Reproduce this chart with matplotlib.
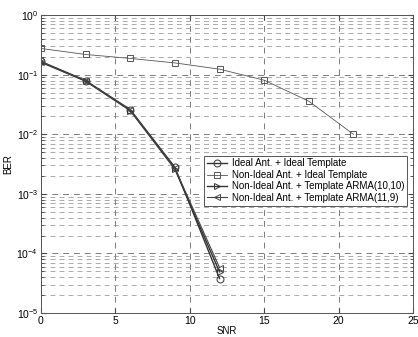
import matplotlib

matplotlib.use("Agg")
import matplotlib.pyplot as plt
from matplotlib.ticker import LogLocator, NullFormatter

plt.rcParams["font.family"] = ["Liberation Sans", "DejaVu Sans"]

SNR_A = [0, 3, 6, 9, 12]
SNR_B = [0, 3, 6, 9, 12, 15, 18, 21]

BER_IDEAL = [0.167, 0.080, 0.026, 0.0028, 3.8e-5]
BER_NONIDEAL = [0.276, 0.219, 0.188, 0.158, 0.124, 0.081, 0.036, 0.0100]
BER_ARMA_10_10 = [0.162, 0.078, 0.025, 0.0026, 4.9e-5]
BER_ARMA_11_9 = [0.165, 0.079, 0.0255, 0.0027, 5.8e-5]

LABELS = [
    "Ideal Ant. + Ideal Template",
    "Non-Ideal Ant. + Ideal Template",
    "Non-Ideal Ant. + Template ARMA(10,10)",
    "Non-Ideal Ant. + Template ARMA(11,9)",
]

fig = plt.figure(figsize=(4.18, 3.37), dpi=100)
ax = fig.add_axes([0.098, 0.071, 0.890, 0.884])

mk = dict(markerfacecolor="none", markersize=5, markeredgewidth=0.7)
ax.semilogy(SNR_A, BER_IDEAL, "-o", color="#333333", lw=1.0, label=LABELS[0], **mk)
ax.semilogy(SNR_B, BER_NONIDEAL, "-s", color="#555555", lw=0.6, label=LABELS[1], **mk)
ax.semilogy(SNR_A, BER_ARMA_10_10, "->", color="#333333", lw=1.0, label=LABELS[2], **mk)
ax.semilogy(SNR_A, BER_ARMA_11_9, "-<", color="#444444", lw=0.8, label=LABELS[3], **mk)

ax.set_xlim(0, 25)
ax.set_ylim(1e-5, 1)
ax.set_xticks([0, 5, 10, 15, 20, 25])
ax.yaxis.set_major_locator(LogLocator(base=10, numticks=10))
ax.yaxis.set_minor_locator(LogLocator(base=10, subs=range(2, 10), numticks=10))
ax.yaxis.set_minor_formatter(NullFormatter())

ax.grid(True, which="major", ls=(0, (7, 6)), lw=0.6, color="#666666")
ax.grid(True, which="minor", axis="y", ls=(0, (7, 6)), lw=0.5, color="#888888")
ax.tick_params(which="both", direction="in", top=True, right=True,
               labelsize=7.5, color="#444444", pad=2)
for s in ax.spines.values():
    s.set_color("#555555")
    s.set_linewidth(0.7)

ax.set_xlabel("SNR", fontsize=7, labelpad=0)
ax.set_ylabel("BER", fontsize=7, labelpad=2)

leg = ax.legend(loc="upper right", bbox_to_anchor=(0.997, 0.545), fontsize=7,
                fancybox=False, framealpha=1, edgecolor="#555555",
                borderpad=0.3, labelspacing=0.15, handlelength=2.0,
                handletextpad=0.5)
leg.get_frame().set_linewidth(0.7)

fig.savefig("out.png", dpi=100)
